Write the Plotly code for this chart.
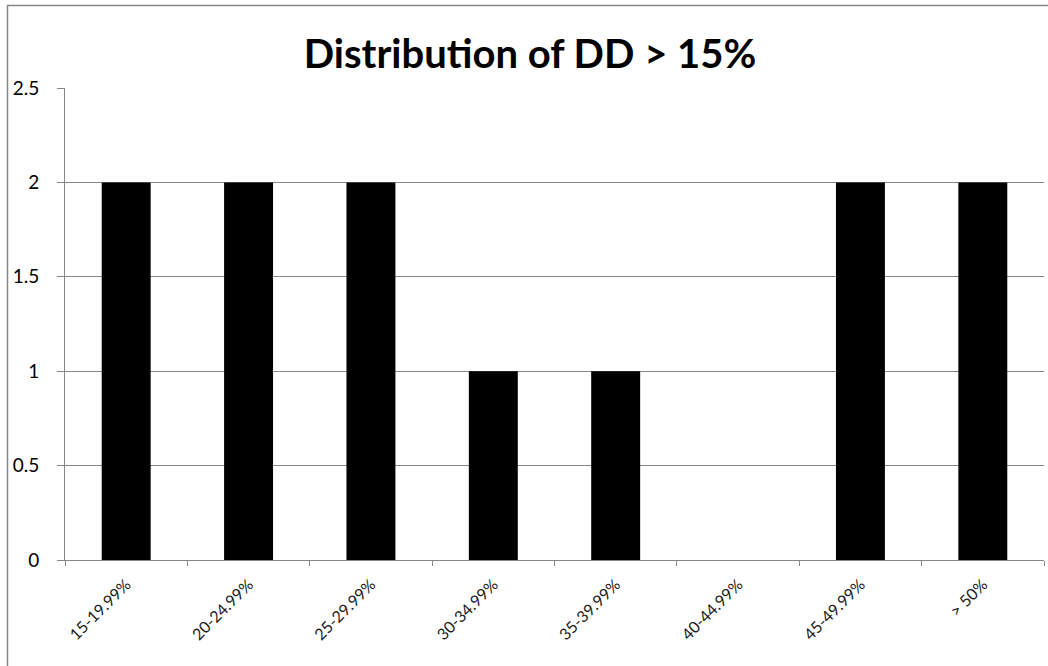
import plotly.graph_objects as go

categories = ["15-19.99%", "20-24.99%", "25-29.99%", "30-34.99%", "35-39.99%",
              "40-44.99%", "45-49.99%", "> 50%"]
counts = [2, 2, 2, 1, 1, 0, 2, 2]
y_ticks = [0, 0.5, 1, 1.5, 2, 2.5]
y_tick_text = ["0", "0.5", "1", "1.5", "2", "2.5"]
title_text = "Distribution of DD > 15%"

W, H = 1048, 666
L, R, T, B = 65, 4, 88, 106
pw, ph = W - L - R, H - T - B

def px_x(x):
    return (x - L) / pw

def px_y(y):
    return (H - B - y) / ph

fig = go.Figure()
fig.add_trace(go.Bar(x=categories, y=counts, marker=dict(color="#000000", line=dict(width=0)),
                     showlegend=False))

fig.update_layout(
    width=W, height=H,
    margin=dict(l=L, r=R, t=T, b=B, autoexpand=False),
    paper_bgcolor="white", plot_bgcolor="white",
    bargap=0.6,
    title=dict(text="<b>" + title_text + "</b>", x=530 / W, xanchor="center",
               y=1 - 54 / H, yanchor="middle",
               font=dict(family="Lato", size=40, color="#000000")),
    xaxis=dict(showline=True, linecolor="#868686", linewidth=1,
               ticks="outside", tickson="boundaries", ticklen=5, tickcolor="#868686",
               tickangle=-45, tickfont=dict(family="Lato", size=16, color="#1a1a1a"),
               ticklabelstandoff=8,
               showgrid=False),
    yaxis=dict(range=[0, 2.5], tickvals=y_ticks, ticktext=y_tick_text,
               showline=True, linecolor="#868686", linewidth=1,
               ticks="outside", ticklen=7, tickcolor="#868686",
               showgrid=True, gridcolor="#868686", gridwidth=1,
               zeroline=False,
               ticklabelstandoff=14,
               tickfont=dict(family="Lato", size=19, color="#000000")),
    shapes=[dict(type="rect", xref="paper", yref="paper",
                 x0=px_x(7.5), x1=px_x(1060), y0=px_y(5.5), y1=px_y(680),
                 line=dict(color="#868686", width=1.5), fillcolor="rgba(0,0,0,0)",
                 layer="below")],
)

fig.write_html("out.html", config={"displayModeBar": False},
               post_script="document.body.style.margin='0';document.body.style.padding='0';")
